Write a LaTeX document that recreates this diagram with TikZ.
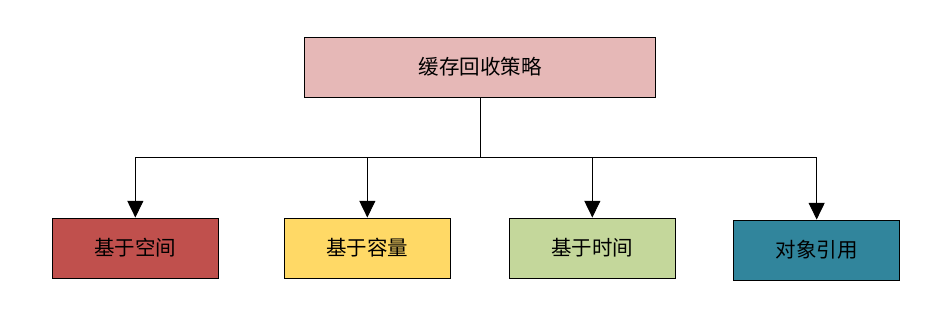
\documentclass[tikz,border=0pt]{standalone}
\usepackage{fontspec}
\newfontfamily\cjk{Noto Sans CJK SC}
\usepackage{tikz}
\usetikzlibrary{arrows.meta, positioning}

\definecolor{rootpink}{RGB}{230,184,183}
\definecolor{spacered}{RGB}{192,80,77}
\definecolor{sizeyellow}{RGB}{255,217,102}
\definecolor{timegreen}{RGB}{196,215,155}
\definecolor{refteal}{RGB}{49,133,156}

\begin{document}
\begin{tikzpicture}[
    box/.style={draw, line width=0.8pt, minimum width=4.98cm, minimum height=1.8cm,
        font=\cjk\fontsize{17.5}{20}\selectfont},
    link/.style={line width=0.8pt, -{Triangle[length=0.5cm, width=0.48cm]}}
  ]
    \useasboundingbox (0, 0) rectangle (28.26, 9.48);

    % Root strategy
    \node[box, fill=rootpink, minimum width=10.53cm] (root) at (14.4, 7.47) {缓存回收策略};

    % The four kinds
    \node[box, fill=spacered] (space) at (4.06, 2.04) {基于空间};
    \node[box, fill=sizeyellow] (size) at (11.02, 2.04) {基于容量};
    \node[box, fill=timegreen] (time) at (17.77, 2.04) {基于时间};
    \node[box, fill=refteal] (ref) at (24.5, 1.98) {对象引用};

    % Bus below the root
    \coordinate[below=1.8cm of root.south] (bus);

    \foreach \kind in {space, size, time, ref} {
        \draw[link] (root.south) -- (bus) -| (\kind.north);
    }
\end{tikzpicture}
\end{document}
